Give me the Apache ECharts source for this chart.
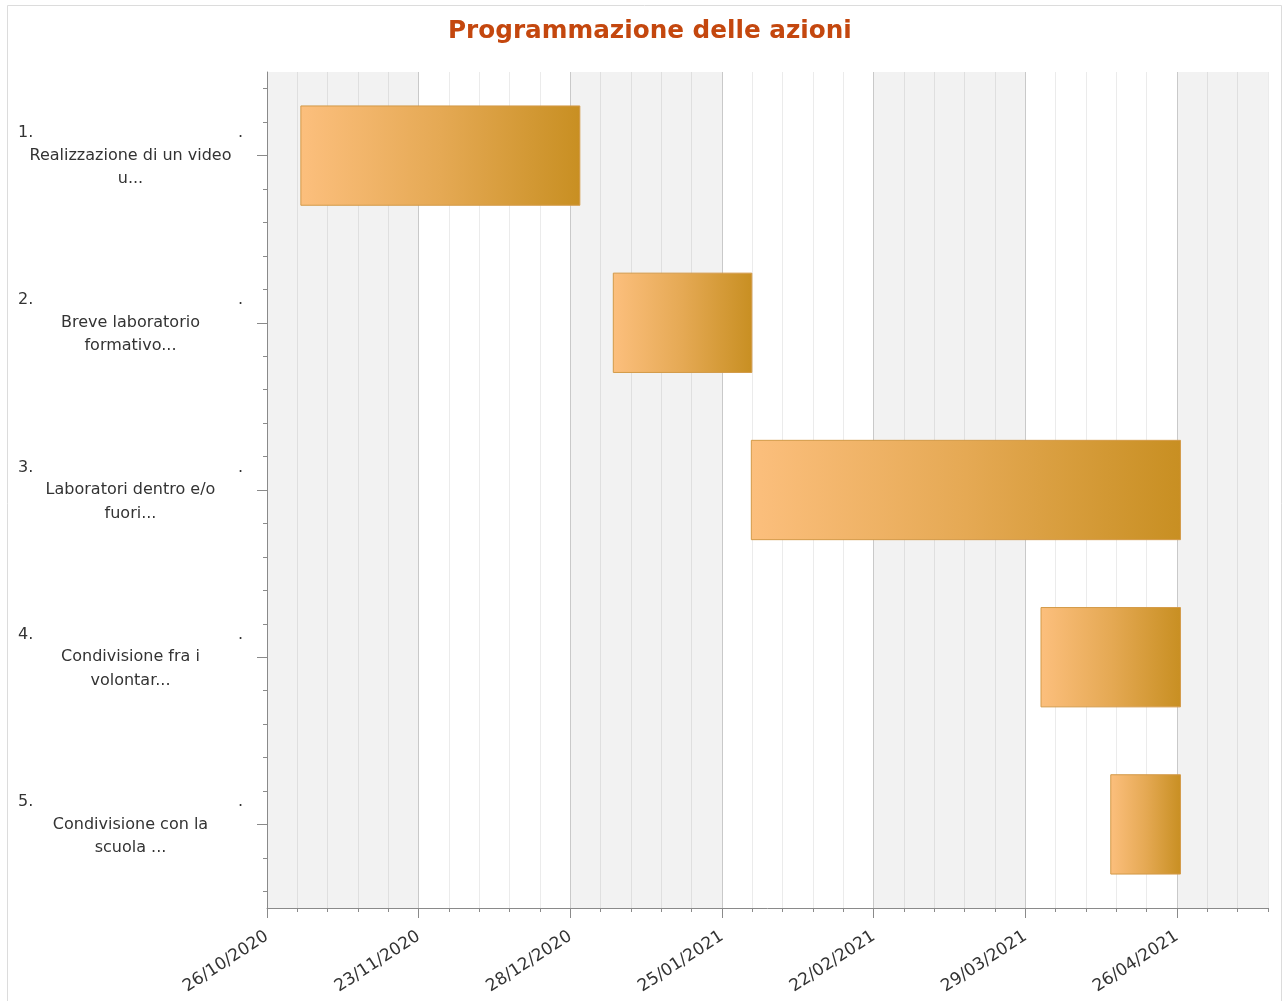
<!DOCTYPE html>
<html>
<head>
<meta charset="utf-8">
<script src="https://cdn.jsdelivr.net/npm/echarts@6/dist/echarts.min.js"></script>
<style>
  html, body { margin: 0; padding: 0; background: #ffffff; }
  #chart { width: 1285px; height: 1001px; }
</style>
</head>
<body>
<div id="chart"></div>
<script>
// ---- data (x values in axis units: 5 units between consecutive date labels) ----
var categories = [
  'Realizzazione di un video\nu...',
  'Breve laboratorio\nformativo...',
  'Laboratori dentro e/o\nfuori...',
  'Condivisione fra i\nvolontar...',
  'Condivisione con la\nscuola ...'
];
var startValues = [1.1, 11.4, 15.95, 25.5, 27.8];
var endValues = [10.33, 16.0, 30.13, 30.13, 30.13];
var tickLabels = ['26/10/2020', '23/11/2020', '28/12/2020', '25/01/2021', '22/02/2021', '29/03/2021', '26/04/2021'];
var unitsPerLabel = 5;
var axisMax = 33;

// ---- derived structures ----
var durations = startValues.map(function (s, i) { return +(endValues[i] - s).toFixed(3); });
var xCategoryData = [];
for (var i = 0; i <= axisMax; i++) {
  xCategoryData.push(i % unitsPerLabel === 0 ? (tickLabels[i / unitsPerLabel] || '') : '');
}
var ySubData = [];
categories.forEach(function (c, ci) {
  for (var k = 0; k < 5; k++) ySubData.push(ci + '_' + k);
});
function majorFilter(index) { return index % unitsPerLabel === 0; }

var FONT = 'DejaVu Sans';
var chart = echarts.init(document.getElementById('chart'), null, { renderer: 'canvas' });

var option = {
  backgroundColor: '#ffffff',
  animation: false,
  title: {
    text: 'Programmazione delle azioni',
    left: 443,
    top: 14,
    textStyle: { color: '#c4470e', fontSize: 24.7, fontWeight: 'bold', fontFamily: FONT }
  },
  graphic: [{
    type: 'rect',
    shape: { x: 7.5, y: 5.5, width: 1274, height: 1010 },
    style: { fill: 'none', stroke: '#dcdcdc', lineWidth: 1 },
    silent: true,
    z: -10
  }],
  grid: {
    left: 267, right: 17, top: 72, bottom: 93,
    containLabel: false,
    outerBoundsMode: 'none'
  },
  xAxis: [
    {
      type: 'value', min: 0, max: axisMax, interval: unitsPerLabel,
      axisLine: { show: false }, axisTick: { show: false }, axisLabel: { show: false },
      splitLine: { show: false },
      splitArea: { show: true, areaStyle: { color: ['#f2f2f2', '#ffffff'] } }
    },
    {
      type: 'value', min: 0, max: axisMax, interval: 1, position: 'bottom',
      axisLine: { show: false },
      axisTick: { show: true, length: 4, lineStyle: { color: '#8a8a8a' } },
      axisLabel: { show: false },
      splitLine: { show: true, lineStyle: { color: 'rgba(0,0,0,0.08)', width: 1 } },
      splitArea: { show: false }
    },
    {
      type: 'category', data: xCategoryData, boundaryGap: false, position: 'bottom',
      axisLine: { show: true, lineStyle: { color: '#8a8a8a', width: 1 } },
      axisTick: { show: true, interval: majorFilter, length: 10, lineStyle: { color: '#8a8a8a' } },
      axisLabel: {
        show: true, interval: majorFilter, rotate: 33, margin: 27,
        color: '#333333', fontSize: 17, fontFamily: FONT
      },
      splitLine: { show: true, interval: majorFilter, lineStyle: { color: '#c9c9c9', width: 1 } }
    }
  ],
  yAxis: [
    {
      type: 'category', data: categories, inverse: true, boundaryGap: true,
      axisLine: { show: true, lineStyle: { color: '#8a8a8a', width: 1 } },
      axisTick: { show: true, alignWithLabel: true, length: 10, interval: 0, lineStyle: { color: '#8a8a8a' } },
      splitLine: { show: true, alignWithLabel: true, interval: 0, lineStyle: { color: '#cfcfcf', width: 1 } },
      axisLabel: {
        show: true, interval: 0, align: 'center', margin: 136.5,
        color: '#333333', fontFamily: FONT, fontSize: 16,
        formatter: function (value, index) {
          var lines = value.split('\n');
          return '{n|' + (index + 1) + '.}{d|.}\n' + lines.map(function (l) { return '{c|' + l + '}'; }).join('\n');
        },
        rich: {
          n: { width: 200, align: 'left', fontSize: 16, fontFamily: FONT, color: '#333333', lineHeight: 23.5, padding: [2, 0, 0, 0] },
          d: { width: 25, align: 'right', fontSize: 16, fontFamily: FONT, color: '#333333', lineHeight: 23.5, padding: [2, 0, 0, 0] },
          c: { align: 'center', fontSize: 16, fontFamily: FONT, color: '#333333', lineHeight: 23.5 }
        }
      }
    },
    {
      type: 'category', data: ySubData, inverse: true, boundaryGap: true, position: 'left',
      axisLine: { show: false },
      axisTick: { show: true, alignWithLabel: true, interval: 0, length: 4, lineStyle: { color: '#8a8a8a' } },
      axisLabel: { show: false },
      splitLine: { show: false }
    }
  ],
  series: [
    {
      name: 'start', type: 'bar', stack: 'gantt', xAxisIndex: 0, yAxisIndex: 0,
      data: startValues, barWidth: '60%', silent: true,
      itemStyle: { color: 'transparent', borderWidth: 0 },
      emphasis: { disabled: true }
    },
    {
      name: 'duration', type: 'bar', stack: 'gantt', xAxisIndex: 0, yAxisIndex: 0,
      data: durations, barWidth: '60%',
      itemStyle: {
        color: new echarts.graphic.LinearGradient(0, 0, 1, 0, [
          { offset: 0, color: '#fcbf7d' },
          { offset: 0.5, color: '#e5a954' },
          { offset: 1, color: '#c88f22' }
        ]),
        borderColor: '#d39a48', borderWidth: 1
      }
    }
  ]
};
chart.setOption(option);
</script>
</body>
</html>
